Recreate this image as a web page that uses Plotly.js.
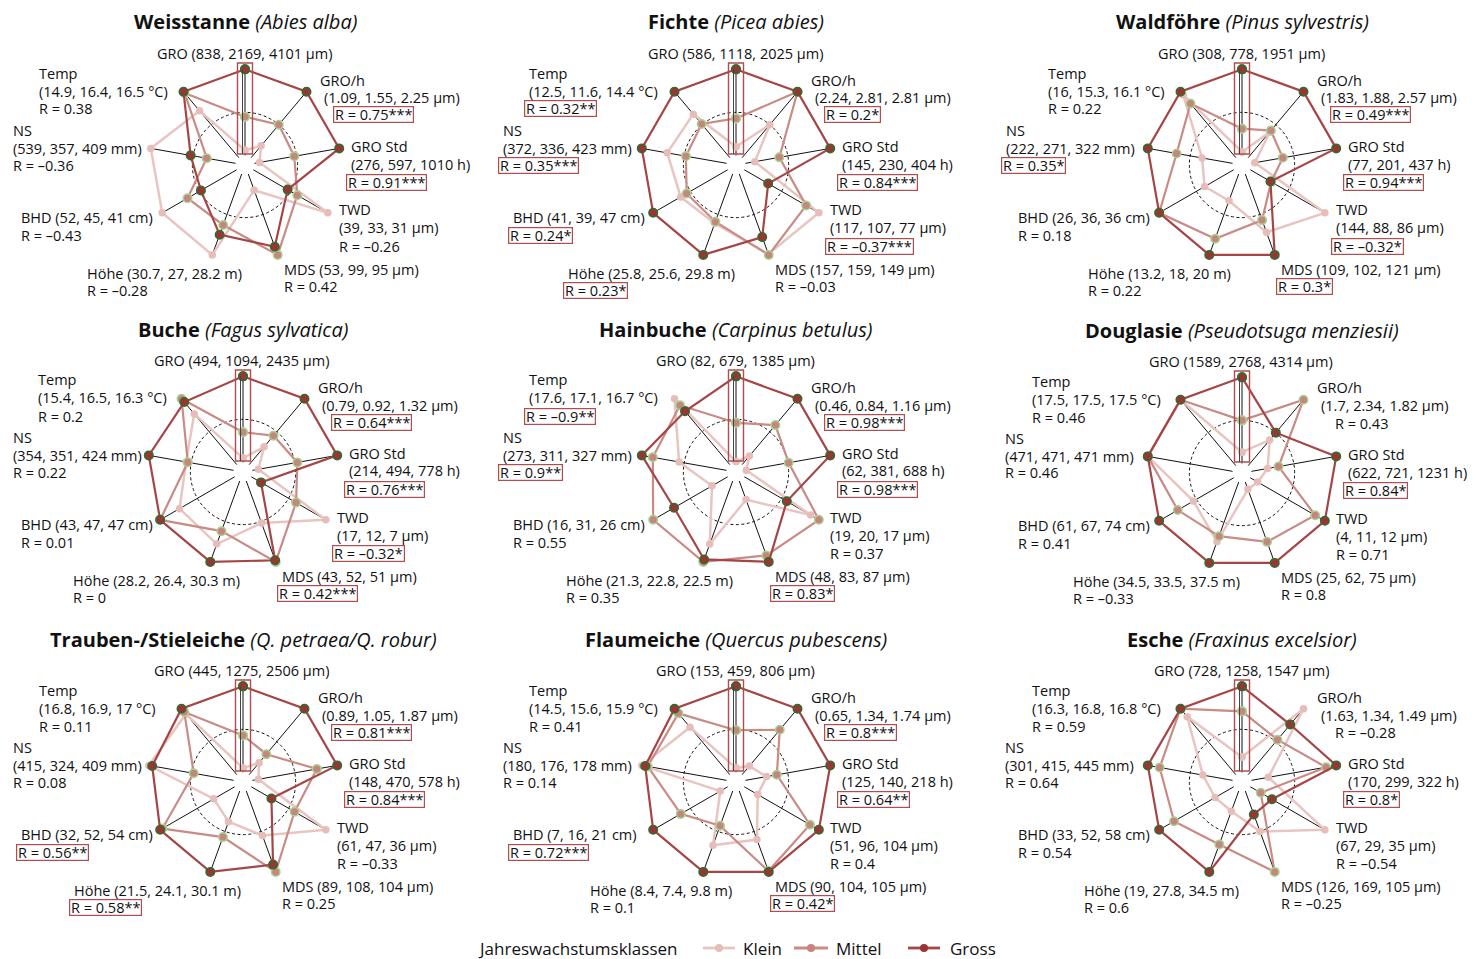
<!DOCTYPE html>
<html><head><meta charset="utf-8">
<script src="https://cdn.plot.ly/plotly-3.0.1.min.js"></script>
<style>html,body{margin:0;padding:0;background:#fff}</style>
</head><body><div id="chart" style="width:1478px;height:959px"></div>
<script>
// ---------- data ----------
const categories = ['GRO','GRO/h','GRO Std','TWD','MDS','Höhe','BHD','NS','Temp'];
const units = ['µm','µm','h','µm','µm','m','cm','mm','°C'];
const classNames = ['Klein','Mittel','Gross'];
const legendTitle = 'Jahreswachstumsklassen';
const speciesNames = ['Weisstanne','Fichte','Waldföhre','Buche','Hainbuche','Douglasie','Trauben-/Stieleiche','Flaumeiche','Esche'];
const latinNames = ['Abies alba','Picea abies','Pinus sylvestris','Fagus sylvatica','Carpinus betulus','Pseudotsuga menziesii','Q. petraea/Q. robur','Quercus pubescens','Fraxinus excelsior'];

// scaled class profiles, axis order as in categories
const weisstanneKlein  = [0.06,0.18,0.06,1.00,0.20,1.00,1.00,1.00,0.71];
const weisstanneMittel = [0.45,0.50,0.47,0.59,1.00,0.63,0.66,0.34,0.98];
const weisstanneGross  = [1.00,1.00,1.00,0.46,0.90,0.75,0.48,0.53,1.00];
const weisstanneMeans  = [[838,2169,4101],[1.09,1.55,2.25],[276,597,1010],[39,33,31],[53,99,95],[30.7,27,28.2],[52,45,41],[539,357,409],[14.9,16.4,16.5]];
const weisstanneR      = [null,0.75,0.91,-0.26,0.42,-0.28,-0.43,-0.36,0.38];
const weisstanneStars  = ['','***','***','','','','','',''];

const fichteKlein  = [0.10,0.50,0.11,1.00,0.99,0.61,0.63,0.70,0.66];
const fichteMittel = [0.43,1.00,0.40,0.83,1.00,0.59,0.55,0.48,0.51];
const fichteGross  = [1.00,1.00,1.00,0.32,0.78,1.00,1.00,1.00,1.00];
const fichteMeans  = [[586,1118,2025],[2.24,2.81,2.81],[145,230,404],[117,107,77],[157,159,149],[25.8,25.6,29.8],[41,39,47],[372,336,423],[12.5,11.6,14.4]];
const fichteR      = [null,0.2,0.84,-0.37,-0.03,0.23,0.24,0.35,0.32];
const fichteStars  = ['','*','***','***','','*','*','***','**'];

const waldfoehreKlein  = [0.04,0.39,0.04,1.00,0.72,0.33,0.39,0.36,0.95];
const waldfoehreMittel = [0.31,0.41,0.37,0.28,0.57,0.80,1.00,0.66,0.82];
const waldfoehreGross  = [1.00,1.00,1.00,0.27,1.00,1.00,1.00,1.00,1.00];
const waldfoehreMeans  = [[308,778,1951],[1.83,1.88,2.57],[77,201,437],[144,88,86],[109,102,121],[13.2,18,20],[26,36,36],[222,271,322],[16,15.3,16.1]];
const waldfoehreR      = [null,0.49,0.94,-0.32,0.3,0.22,0.18,0.35,0.22];
const waldfoehreStars  = ['','***','***','*','*','','','*',''];

const bucheKlein  = [0.05,0.27,0.07,1.00,0.52,0.78,0.74,0.56,0.77];
const bucheMittel = [0.35,0.44,0.53,0.60,1.00,0.62,1.00,0.54,1.00];
const bucheGross  = [1.00,1.00,1.00,0.13,0.98,1.00,1.00,1.00,0.95];
const bucheMeans  = [[494,1094,2435],[0.79,0.92,1.32],[214,494,778],[17,12,7],[43,52,51],[28.2,26.4,30.3],[43,47,47],[354,351,424],[15.4,16.5,16.3]];
const bucheR      = [null,0.64,0.76,-0.32,0.42,0,0.01,0.22,0.2];
const bucheStars  = ['','***','***','*','***','','','',''];

const hainbucheKlein  = [0.01,0.13,0.01,0.89,0.23,0.78,0.21,0.56,1.00];
const hainbucheMittel = [0.46,0.60,0.51,1.00,0.92,1.00,1.00,0.87,0.90];
const hainbucheGross  = [1.00,1.00,1.00,0.57,1.00,0.97,0.72,1.00,0.81];
const hainbucheMeans  = [[82,679,1385],[0.46,0.84,1.16],[62,381,688],[19,20,17],[48,83,87],[21.3,22.8,22.5],[16,31,26],[273,311,327],[17.6,17.1,16.7]];
const hainbucheR      = [null,0.98,0.98,0.37,0.83,0.35,0.55,0.9,-0.9];
const hainbucheStars  = ['','***','***','','*','','','**','**'];

const douglasieKlein  = [0.13,0.39,0.19,0.10,0.09,0.74,0.54,1.00,1.00];
const douglasieMittel = [0.50,1.00,0.32,0.87,0.74,0.67,0.75,1.00,1.00];
const douglasieGross  = [1.00,0.50,1.00,1.00,1.00,1.00,1.00,1.00,1.00];
const douglasieMeans  = [[1589,2768,4314],[1.7,2.34,1.82],[622,721,1231],[4,11,12],[25,62,75],[34.5,33.5,37.5],[61,67,74],[471,471,471],[17.5,17.5,17.5]];
const douglasieR      = [null,0.43,0.84,0.71,0.8,-0.33,0.41,0.46,0.46];
const douglasieStars  = ['','','*','','','','','',''];

const eicheKlein  = [0.05,0.18,0.07,1.00,0.55,0.38,0.28,1.00,0.92];
const eicheMittel = [0.43,0.31,0.76,0.58,1.00,0.57,0.97,0.47,0.95];
const eicheGross  = [1.00,1.00,1.00,0.27,0.91,1.00,1.00,0.96,1.00];
const eicheMeans  = [[445,1275,2506],[0.89,1.05,1.87],[148,470,578],[61,47,36],[89,108,104],[21.5,24.1,30.1],[32,52,54],[415,324,409],[16.8,16.9,17]];
const eicheR      = [null,0.81,0.84,-0.33,0.25,0.58,0.56,0.08,0.11];
const eicheStars  = ['','***','***','','','**','**','',''];

const flaumeicheKlein  = [0.05,0.13,0.25,0.18,0.60,0.67,0.10,1.00,0.72];
const flaumeicheMittel = [0.49,0.68,0.37,0.88,0.99,0.43,0.63,0.93,0.93];
const flaumeicheGross  = [1.00,1.00,1.00,1.00,1.00,1.00,1.00,0.96,1.00];
const flaumeicheMeans  = [[153,459,806],[0.65,1.34,1.74],[125,140,218],[51,96,104],[90,104,105],[8.4,7.4,9.8],[7,16,21],[180,176,178],[14.5,15.6,15.9]];
const flaumeicheR      = [null,0.8,0.64,0.4,0.42,0.1,0.72,0.14,0.41];
const flaumeicheStars  = ['','***','**','','*','','***','',''];

const escheKlein  = [0.18,1.00,0.20,1.00,0.50,0.25,0.25,0.35,0.88];
const escheMittel = [0.71,0.53,0.88,0.14,1.00,0.66,0.80,0.86,1.00];
const escheGross  = [1.00,0.76,1.00,0.29,0.29,1.00,1.00,1.00,1.00];
const escheMeans  = [[728,1258,1547],[1.63,1.34,1.49],[170,299,322],[67,29,35],[126,169,105],[19,27.8,34.5],[33,52,58],[301,415,445],[16.3,16.8,16.8]];
const escheR      = [null,-0.28,0.8,-0.54,-0.25,0.6,0.54,0.64,0.59];
const escheStars  = ['','','*','','','','','',''];

const panels = [
  [weisstanneKlein,weisstanneMittel,weisstanneGross,weisstanneMeans,weisstanneR,weisstanneStars],
  [fichteKlein,fichteMittel,fichteGross,fichteMeans,fichteR,fichteStars],
  [waldfoehreKlein,waldfoehreMittel,waldfoehreGross,waldfoehreMeans,waldfoehreR,waldfoehreStars],
  [bucheKlein,bucheMittel,bucheGross,bucheMeans,bucheR,bucheStars],
  [hainbucheKlein,hainbucheMittel,hainbucheGross,hainbucheMeans,hainbucheR,hainbucheStars],
  [douglasieKlein,douglasieMittel,douglasieGross,douglasieMeans,douglasieR,douglasieStars],
  [eicheKlein,eicheMittel,eicheGross,eicheMeans,eicheR,eicheStars],
  [flaumeicheKlein,flaumeicheMittel,flaumeicheGross,flaumeicheMeans,flaumeicheR,flaumeicheStars],
  [escheKlein,escheMittel,escheGross,escheMeans,escheR,escheStars]
];

// ---------- layout / style ----------
const W = 1478, H = 959, RAD = 96;
const centers = [[245,165],[736,165],[1242,165],[243,472],[736,472],[1242,473],[243,782],[736,782],[1242,782]];
// left edges of the left-side label blocks (Temp, NS, BHD, Höhe), px from centre
const leftEdges = [[-208,-234,-226,-160],[-209,-235,-225,-170],[-196,-238,-226,-156],[-207,-232,-224,-172],
                   [-209,-235,-225,-172],[-212,-239,-226,-171],[-206,-232,-224,-171],[-209,-235,-225,-148],[-212,-239,-226,-160]];
const FONT = 'Open Sans, Noto Sans, sans-serif';
const FS = 14.5;
const BOXC = '#b24d4f';
const styles = [
  {line:'#e9c5c1', fill:'#e6bdb9', edge:'#e6bdb9', ew:0, size:7.5, lw:2.5},
  {line:'#c98b85', fill:'#c6867f', edge:'#a6d490', ew:1.5, size:8.5, lw:2.2},
  {line:'#a64546', fill:'#9b3434', edge:'#2e6e2e', ew:1.5, size:8.5, lw:2.2}
];
// legend geometry (px): sample line start/end and text left for each class
const legendItems = [[703,735,741],[794,828,834],[908,940,948]];
const legendY = 948;

const px = x => x / W;
const py = y => 1 - y / H;
const fmt = v => (v < 0 ? '–' + String(-v) : String(v));
const triple = (a, u) => '(' + a.join(', ') + ' ' + u + ')';

const data = [];
const layout = {
  width: W, height: H, margin: {l:0, r:0, t:0, b:0},
  paper_bgcolor: '#fff', plot_bgcolor: '#fff',
  font: {family: FONT, size: FS, color: '#111'},
  showlegend: false,
  annotations: [], shapes: []
};

function ann(x, y, text, opts) {
  layout.annotations.push(Object.assign({xref:'paper', yref:'paper', x:px(x), y:py(y), text:text,
    showarrow:false, xanchor:'left', yanchor:'middle', align:'left',
    font:{family:FONT, size:FS, color:'#111'}}, opts || {}));
}
function rAnn(x, y, r, stars) {
  const t = 'R = ' + fmt(r) + stars;
  if (stars) ann(x - 3, y, t, {bordercolor:BOXC, borderwidth:1.2, borderpad:0.8, height:13, valign:'middle'});
  else ann(x, y, t);
}

panels.forEach((p, i) => {
  const [cx, cy] = centers[i];
  const key = 'polar' + (i ? i + 1 : '');
  layout[key] = {
    domain: {x:[px(cx - RAD), px(cx + RAD)], y:[py(cy + RAD), py(cy - RAD)]},
    hole: 0.1, bgcolor: 'rgba(0,0,0,0)',
    radialaxis: {range:[0, 1.004], tickvals:[0.5, 1], showticklabels:false, ticks:'', showline:false,
                 showgrid:true, gridcolor:'#111', gridwidth:1, griddash:'3px,2.5px'},
    angularaxis: {type:'category', categoryarray:categories, direction:'clockwise', rotation:90,
                  showgrid:true, gridcolor:'#111', gridwidth:1, showticklabels:false, ticks:'', showline:false}
  };
  for (let c = 0; c < 3; c++) {
    const s = styles[c];
    data.push({type:'scatterpolar', subplot:key, mode:'lines+markers',
      r: p[c].concat([p[c][0]]), theta: categories.concat([categories[0]]),
      line:{color:s.line, width:s.lw},
      marker:{size:s.size, color:s.fill, line:{color:s.edge, width:s.ew}},
      showlegend:false, hoverinfo:'skip', cliponaxis:false});
  }
  // GRO highlight box
  layout.shapes.push({type:'rect', xref:'paper', yref:'paper', x0:px(cx - 7.5), x1:px(cx + 7.5),
    y0:py(cy - 11), y1:py(cy - 102), line:{color:BOXC, width:1.4}, layer:'above'});
  layout.shapes.push({type:'line', xref:'paper', yref:'paper', x0:px(cx - 2.5), x1:px(cx - 2.5),
    y0:py(cy - 11), y1:py(cy - 96), line:{color:'#444', width:1}, layer:'above'});

  // title
  ann(cx, cy - 143, '<b>' + speciesNames[i] + '</b> <i>(' + latinNames[i] + ')</i>',
      {xanchor:'center', font:{family:FONT, size:20, color:'#111'}});

  const m = p[3], R = p[4], st = p[5];
  const L = leftEdges[i];
  ann(cx - 1, cy - 112, 'GRO ' + triple(m[0], units[0]), {xanchor:'center'});
  ann(cx + 73, cy - 85, 'GRO/h');
  ann(cx + 77, cy - 67, triple(m[1], units[1]));
  rAnn(cx + 91, cy - 50, R[1], st[1]);
  ann(cx + 104, cy - 19, 'GRO Std');
  ann(cx + 104, cy - 1, triple(m[2], units[2]));
  rAnn(cx + 104, cy + 17, R[2], st[2]);
  ann(cx + 92, cy + 45, 'TWD');
  ann(cx + 92, cy + 63, triple(m[3], units[3]));
  rAnn(cx + 92, cy + 81, R[3], st[3]);
  ann(cx + 37, cy + 104, 'MDS ' + triple(m[4], units[4]));
  rAnn(cx + 37, cy + 121, R[4], st[4]);
  ann(cx + L[3], cy + 108, 'Höhe ' + triple(m[5], units[5]));
  rAnn(cx + L[3], cy + 125, R[5], st[5]);
  ann(cx + L[2], cy + 52, 'BHD ' + triple(m[6], units[6]));
  rAnn(cx + L[2], cy + 70, R[6], st[6]);
  ann(cx + L[1], cy - 35, 'NS');
  ann(cx + L[1], cy - 17, triple(m[7], units[7]));
  rAnn(cx + L[1], cy + 0, R[7], st[7]);
  ann(cx + L[0], cy - 92, 'Temp');
  ann(cx + L[0], cy - 74, triple(m[8], units[8]));
  rAnn(cx + L[0], cy - 56, R[8], st[8]);
});

// legend (drawn by hand)
ann(680, legendY, legendTitle, {xanchor:'right', font:{family:FONT, size:17, color:'#111'}});
legendItems.forEach((it, c) => {
  const s = styles[c];
  layout.shapes.push({type:'line', xref:'paper', yref:'paper', x0:px(it[0]), x1:px(it[1]),
    y0:py(legendY), y1:py(legendY), line:{color:s.line, width:2.8}});
  const mx = (it[0] + it[1]) / 2, rr = 4;
  layout.shapes.push({type:'circle', xref:'paper', yref:'paper', x0:px(mx - rr), x1:px(mx + rr),
    y0:py(legendY + rr), y1:py(legendY - rr), fillcolor:s.fill, line:{color:s.fill, width:0}});
  ann(it[2], legendY, classNames[c], {font:{family:FONT, size:17, color:'#111'}});
});

Plotly.newPlot('chart', data, layout, {displayModeBar:false, staticPlot:true});
</script></body></html>
